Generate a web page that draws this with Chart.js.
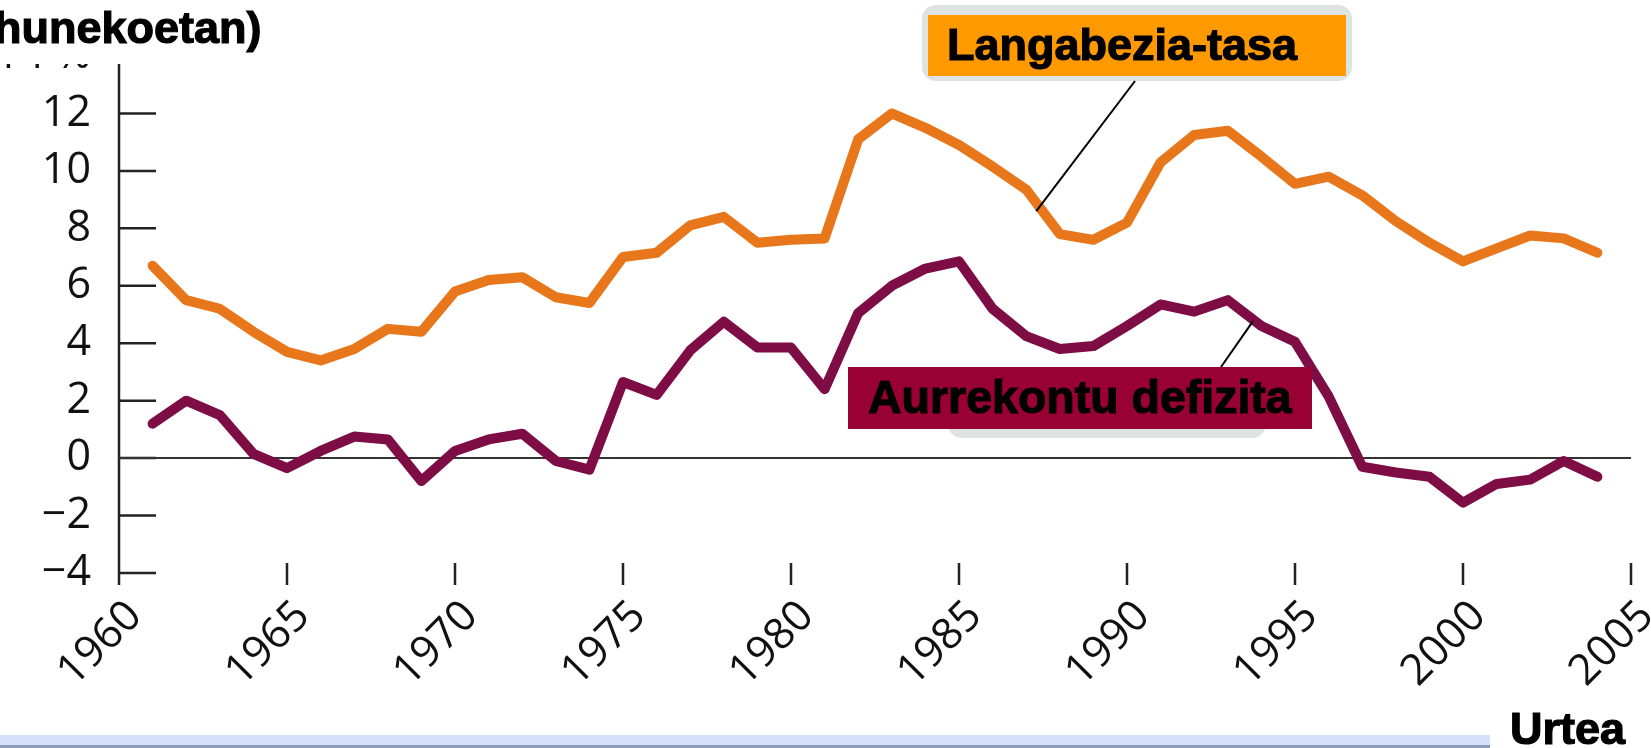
<!DOCTYPE html>
<html>
<head>
<meta charset="utf-8">
<script src="https://cdn.jsdelivr.net/npm/chart.js@4.4.0/dist/chart.umd.min.js"></script>
<style>
  html, body { margin: 0; padding: 0; background: #fff; }
  #wrap { width: 1651px; height: 748px; position: relative; }
</style>
</head>
<body>
<div id="wrap"><canvas id="myChart" width="1651" height="748"></canvas></div>
<script>
const years = [1961,1962,1963,1964,1965,1966,1967,1968,1969,1970,
  1971,1972,1973,1974,1975,1976,1977,1978,1979,1980,
  1981,1982,1983,1984,1985,1986,1987,1988,1989,1990,
  1991,1992,1993,1994,1995,1996,1997,1998,1999,2000,
  2001,2002,2003,2004];
const unemployment = [6.7,5.5,5.2,4.4,3.7,3.4,3.8,4.5,4.4,5.8,
  6.2,6.3,5.6,5.4,7.0,7.15,8.1,8.4,7.5,7.6,
  7.65,11.1,12.0,11.5,10.9,10.15,9.35,7.8,7.6,8.2,
  10.3,11.25,11.4,10.5,9.55,9.8,9.15,8.25,7.5,6.85,
  7.3,7.75,7.65,7.15];
const deficit = [1.2,2.0,1.5,0.15,-0.35,0.25,0.75,0.65,-0.8,0.25,
  0.65,0.85,-0.1,-0.4,2.65,2.2,3.75,4.75,3.85,3.85,
  2.4,5.05,6.0,6.6,6.85,5.2,4.25,3.8,3.9,4.6,
  5.35,5.1,5.5,4.6,4.05,2.15,-0.3,-0.5,-0.65,-1.55,
  -0.9,-0.75,-0.1,-0.65];
const yTicks = [-4,-2,0,2,4,6,8,10,12,14];
const xTicks = [1960,1965,1970,1975,1980,1985,1990,1995,2000,2005];
const seriesNames = ['Langabezia-tasa', 'Aurrekontu defizita'];
const unitTitle = 'hunekoetan)';
const xTitle = 'Urtea';

const orange = '#e8771c';
const purple = '#7e0c45';
const boldFont = '"Liberation Sans", Arial, sans-serif';

// axis lines, inward y ticks, x tick marks, zero line
const axisPlugin = {
  id: 'axisPlugin',
  beforeDatasetsDraw(chart) {
    const c = chart.ctx, x = chart.scales.x, y = chart.scales.y;
    const x0 = x.getPixelForValue(1960);
    c.save();
    c.strokeStyle = '#222';
    c.lineWidth = 2.5;
    c.beginPath();
    c.moveTo(x0, y.getPixelForValue(14));
    c.lineTo(x0, y.getPixelForValue(-4) + 12);
    yTicks.forEach(v => {
      const py = y.getPixelForValue(v);
      c.moveTo(x0, py);
      c.lineTo(x0 + 37, py);
    });
    xTicks.slice(1).forEach(v => {
      const px = x.getPixelForValue(v);
      c.moveTo(px, y.getPixelForValue(-4) - 10);
      c.lineTo(px, y.getPixelForValue(-4) + 12);
    });
    c.stroke();
    c.strokeStyle = '#333';
    c.lineWidth = 2;
    c.beginPath();
    c.moveTo(x0, y.getPixelForValue(0));
    c.lineTo(x.getPixelForValue(2005), y.getPixelForValue(0));
    c.stroke();
    c.restore();
  }
};

function boldText(c, txt, px, py, size) {
  c.font = 'bold ' + size + 'px ' + boldFont;
  c.fillStyle = '#000';
  c.strokeStyle = '#000';
  c.lineWidth = 1.2;
  c.fillText(txt, px, py);
  c.strokeText(txt, px, py);
}

// labels, leader lines, title and bottom bar
const notePlugin = {
  id: 'notePlugin',
  afterDraw(chart) {
    const c = chart.ctx, x = chart.scales.x, y = chart.scales.y;
    c.save();
    c.textBaseline = 'alphabetic';
    // title cover
    c.fillStyle = '#fff';
    c.fillRect(0, 0, 300, 64);
    boldText(c, unitTitle, -6, 43, 45);

    // orange label
    c.fillStyle = '#dde3e0';
    c.beginPath();
    c.roundRect(922, 5, 430, 76, 14);
    c.fill();
    c.fillStyle = '#ff9900';
    c.fillRect(928, 15, 418, 61);
    boldText(c, seriesNames[0], 947, 60, 45);
    c.strokeStyle = '#000';
    c.lineWidth = 2;
    c.beginPath();
    c.moveTo(1135, 81);
    c.lineTo(x.getPixelForValue(1987.3), y.getPixelForValue(8.6));
    c.stroke();

    // purple label
    c.fillStyle = '#dde3e0';
    c.beginPath();
    c.roundRect(948, 380, 318, 58, 14);
    c.fill();
    c.fillStyle = '#990033';
    c.fillRect(848, 367, 464, 62);
    boldText(c, seriesNames[1], 868, 413, 46.5);
    c.strokeStyle = '#000';
    c.lineWidth = 2;
    c.beginPath();
    c.moveTo(1221, 367);
    c.lineTo(x.getPixelForValue(1993.75), y.getPixelForValue(4.77));
    c.stroke();

    // bottom bar
    c.fillStyle = '#d5e1fa';
    c.fillRect(0, 735, 1490, 13);
    c.fillStyle = '#8c9ab8';
    c.fillRect(0, 745, 1490, 3);

    boldText(c, xTitle, 1510, 744, 45);
    c.restore();
  }
};

const ctx = document.getElementById('myChart').getContext('2d');
const myChart = new Chart(ctx, {
  type: 'line',
  data: {
    labels: years,
    datasets: [{
      label: seriesNames[0],
      data: years.map((yr, i) => ({ x: yr, y: unemployment[i] })),
      borderColor: orange,
      borderWidth: 10,
      pointRadius: 0,
      tension: 0,
      borderJoinStyle: 'round',
      borderCapStyle: 'round'
    }, {
      label: seriesNames[1],
      data: years.map((yr, i) => ({ x: yr, y: deficit[i] })),
      borderColor: purple,
      borderWidth: 10,
      pointRadius: 0,
      tension: 0,
      borderJoinStyle: 'round',
      borderCapStyle: 'round'
    }]
  },
  options: {
    responsive: false,
    animation: false,
    layout: { padding: { top: 56, right: 20, left: 0, bottom: 0 } },
    plugins: {
      legend: { display: false },
      tooltip: { enabled: false }
    },
    scales: {
      x: {
        type: 'linear',
        min: 1960,
        max: 2005,
        afterFit(scale) {
          scale.height = 175;
          scale.paddingLeft = 0;
          scale.paddingRight = 0;
        },
        afterBuildTicks(scale) { scale.ticks = xTicks.map(v => ({ value: v })); },
        border: { display: false },
        grid: { display: false },
        ticks: {
          color: '#111',
          font: { family: '"Open Sans", sans-serif', size: 43 },
          minRotation: 45,
          maxRotation: 45,
          padding: 10,
          labelOffset: 16,
          callback: v => String(v)
        }
      },
      y: {
        min: -4,
        max: 14,
        afterFit(scale) {
          scale.width = 119;
          scale.paddingTop = 0;
          scale.paddingBottom = 0;
        },
        afterBuildTicks(scale) { scale.ticks = yTicks.map(v => ({ value: v })); },
        border: { display: false },
        grid: { display: false },
        ticks: {
          color: '#111',
          font: { family: '"Open Sans", sans-serif', size: 43 },
          padding: 20,
          callback: v => v === 14 ? '14 %' : (v < 0 ? '\u2212' + Math.abs(v) : String(v))
        }
      }
    }
  },
  plugins: [axisPlugin, notePlugin]
});
</script>
</body>
</html>
